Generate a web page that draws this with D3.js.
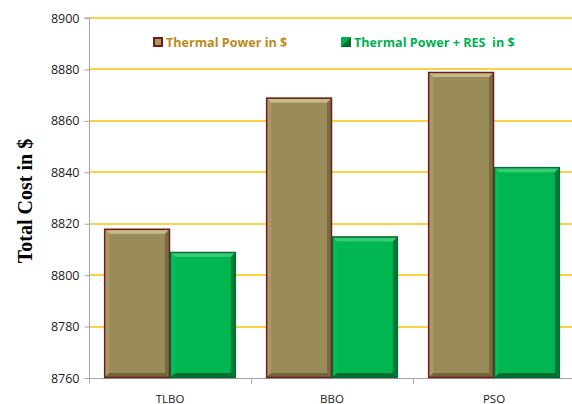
<!DOCTYPE html>
<html>
<head>
<meta charset="utf-8">
<script src="https://cdn.jsdelivr.net/npm/d3@7"></script>
<style>
  html, body { margin: 0; padding: 0; background: #fff; }
  svg { display: block; }
</style>
</head>
<body>
<svg id="chart" width="572" height="404"></svg>
<script>
// Total cost per optimisation method
const categories = ["TLBO", "BBO", "PSO"];
const seriesNames = ["Thermal Power in $", "Thermal Power + RES  in $"];
const thermalCost = [8818, 8869, 8879];
const thermalResCost = [8809, 8815, 8842];
const yTicks = [8760, 8780, 8800, 8820, 8840, 8860, 8880, 8900];

const plotLeft = 89, plotRight = 575, plotTop = 18, plotBottom = 378;

const svg = d3.select("#chart");

const y = d3.scaleLinear().domain([8760, 8900]).range([plotBottom, plotTop]);
const x0 = d3.scaleBand().domain(categories).range([plotLeft, plotRight]).paddingInner(0).paddingOuter(0);
const x1 = d3.scaleBand().domain([0, 1]).range([0, x0.bandwidth()]).paddingInner(0).paddingOuter(0.23);

// Series styling: base fill, highlight, shadow, outline
const styles = [
  { fill: "#9A8C58", light: "#C7BA86", mid: "#A99A64", dark: "#6A5E36", legendText: "#BC8A1A" },
  { fill: "#00B650", light: "#38CC78", mid: "#08BC58", dark: "#00622A", legendText: "#00B050" }
];

// Gridlines
svg.append("g")
  .selectAll("line")
  .data(yTicks.slice(1))
  .join("line")
  .attr("x1", plotLeft).attr("x2", plotRight)
  .attr("y1", d => Math.round(y(d))).attr("y2", d => Math.round(y(d)))
  .attr("stroke", "#FFC000").attr("stroke-width", 1.5);

// Y axis
const yAxis = svg.append("g")
  .attr("transform", `translate(${plotLeft + 0.5},0)`)
  .call(d3.axisLeft(y).tickValues(yTicks).tickSize(5).tickPadding(5).tickFormat(d3.format("d")));
yAxis.select(".domain").attr("stroke", "#A6A6A6").attr("d", `M-5,${plotTop}H0V${plotBottom}`);
yAxis.selectAll(".tick line").attr("stroke", "#A6A6A6");
yAxis.selectAll(".tick text")
  .attr("fill", "#1a1a1a")
  .style("font-family", "'Open Sans', 'Liberation Sans', sans-serif")
  .style("font-size", "12.5px");

// X axis
const xAxis = svg.append("g")
  .attr("transform", `translate(0,${plotBottom + 0.5})`);
xAxis.append("line")
  .attr("x1", plotLeft).attr("x2", plotRight).attr("stroke", "#A6A6A6");
xAxis.selectAll("line.tick")
  .data(categories.concat(["__end"]))
  .join("line")
  .attr("class", "tick")
  .attr("x1", (d, i) => Math.round(plotLeft + i * x0.step()) + 0.5)
  .attr("x2", (d, i) => Math.round(plotLeft + i * x0.step()) + 0.5)
  .attr("y1", 0).attr("y2", 5)
  .attr("stroke", "#A6A6A6");
xAxis.selectAll("text")
  .data(categories)
  .join("text")
  .attr("x", d => x0(d) + x0.bandwidth() / 2)
  .attr("y", 24)
  .attr("text-anchor", "middle")
  .attr("fill", "#1a1a1a")
  .style("font-family", "'Open Sans', 'Liberation Sans', sans-serif")
  .style("font-size", "11.5px")
  .text(d => d);

// Bevelled bar
function bevelBar(g, bx, by, bw, bh, st, outline) {
  const b = Math.min(5, bh / 2);
  g.append("rect").attr("x", bx).attr("y", by).attr("width", bw).attr("height", bh).attr("fill", st.fill);
  // top bevel
  g.append("polygon")
    .attr("points", [[bx, by], [bx + bw, by], [bx + bw - b, by + b], [bx + b, by + b]].join(" "))
    .attr("fill", st.light);
  // left bevel
  g.append("polygon")
    .attr("points", [[bx, by], [bx + b, by + b], [bx + b, by + bh - b], [bx, by + bh]].join(" "))
    .attr("fill", st.mid);
  // right bevel
  g.append("polygon")
    .attr("points", [[bx + bw, by], [bx + bw, by + bh], [bx + bw - b, by + bh - b], [bx + bw - b, by + b]].join(" "))
    .attr("fill", st.dark).attr("opacity", 0.7);
  // bottom bevel
  g.append("polygon")
    .attr("points", [[bx, by + bh], [bx + bw, by + bh], [bx + bw - b, by + bh - b], [bx + b, by + bh - b]].join(" "))
    .attr("fill", st.dark).attr("opacity", 0.85);
  g.append("rect").attr("x", bx + 0.5).attr("y", by + 0.5).attr("width", bw - 1).attr("height", bh - 1)
    .attr("fill", "none").attr("stroke", outline).attr("stroke-width", 1.5);
}

const seriesValues = [thermalCost, thermalResCost];
const barsG = svg.append("g");
categories.forEach((c, ci) => {
  seriesValues.forEach((vals, si) => {
    const bx = x0(c) + x1(si);
    const bw = x1.bandwidth();
    const by = y(vals[ci]);
    const bh = plotBottom - by;
    bevelBar(barsG.append("g"), bx, by, bw, bh, styles[si], si === 0 ? "#6E1E1E" : "#0B6B35");
  });
});

// Legend
const legend = svg.append("g").style("font-family", "'Open Sans', 'Liberation Sans', sans-serif");
const legendX = [153, 341];
seriesNames.forEach((name, i) => {
  const lg = legend.append("g").attr("transform", `translate(${legendX[i]},37)`);
  if (i === 0) {
    lg.append("rect").attr("x", 0).attr("y", 0).attr("width", 10).attr("height", 10).attr("fill", "#6E1E1E");
    lg.append("rect").attr("x", 2).attr("y", 2).attr("width", 6).attr("height", 6).attr("fill", "#A89A60");
  } else {
    lg.append("rect").attr("x", 0).attr("y", 0).attr("width", 10).attr("height", 10).attr("fill", "#00B050");
    lg.append("polygon").attr("points", "10,0 10,10 0,10").attr("fill", "#006A30");
  }
  lg.append("text")
    .attr("x", 13).attr("y", 10)
    .attr("fill", styles[i].legendText)
    .style("font-size", "12.6px")
    .style("font-weight", "bold")
    .style("white-space", "pre")
    .text(name);
});

// Y axis title
svg.append("text")
  .attr("transform", `translate(32,${(plotTop + plotBottom) / 2 + 3}) rotate(-90)`)
  .attr("text-anchor", "middle")
  .style("font-family", "'Liberation Serif', 'Times New Roman', serif")
  .style("font-size", "20px")
  .style("font-weight", "bold")
  .attr("fill", "#000")
  .text("Total Cost in $");
</script>
</body>
</html>
